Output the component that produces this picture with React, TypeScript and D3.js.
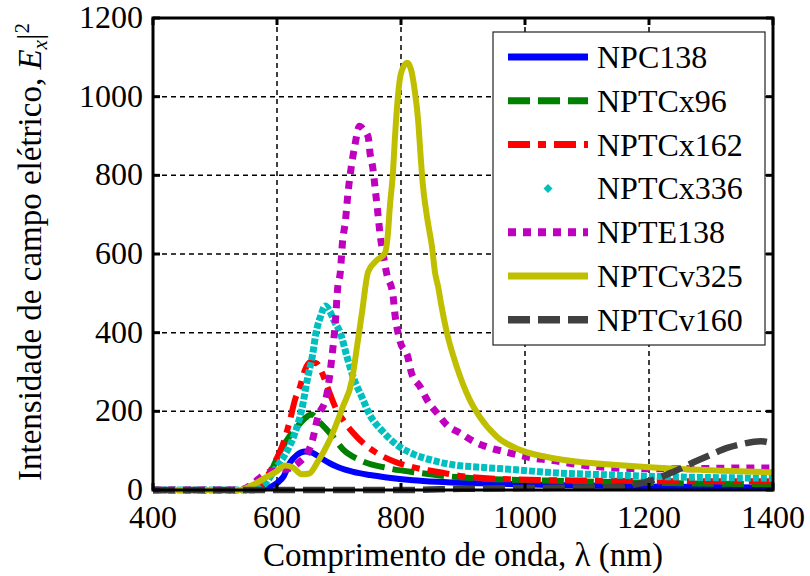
import React from "react";
import * as d3 from "d3";

// Wavelength (nm) / |Ex|^2 samples for each nanoparticle configuration
const npc138: [number, number][] = [
  [400, 0], [560, 0], [590, 8], [602, 20], [610, 33], [621, 70], [632, 89], [645, 98],
  [658, 94], [670, 82], [685, 68], [700, 57], [723, 46], [750, 38], [777, 32], [819, 25],
  [858, 21], [927, 17], [1035, 13], [1150, 10], [1250, 8], [1400, 6],
];

const nptcx96: [number, number][] = [
  [400, 0], [565, 0], [575, 8], [585, 30], [597, 70], [604, 95], [616, 127], [632, 160],
  [645, 182], [655, 192], [669, 172], [690, 136], [706, 104], [734, 76], [777, 56],
  [831, 43], [879, 34], [927, 29], [1035, 24], [1150, 20], [1250, 17], [1400, 15],
];

const nptcx162: [number, number][] = [
  [400, 0], [560, 0], [575, 15], [588, 45], [597, 72], [608, 110], [621, 178], [629, 229],
  [637, 262], [645, 305], [653, 325], [664, 322], [672, 300], [683, 255], [694, 211],
  [708, 175], [723, 145], [740, 118], [761, 94], [790, 72], [819, 58], [863, 45],
  [900, 35], [981, 27], [1100, 24], [1250, 22], [1400, 22],
];

const nptcx336: [number, number][] = [
  [400, 0], [565, 0], [580, 15], [600, 60], [613, 90], [621, 114], [629, 145], [640, 205],
  [650, 290], [657, 340], [663, 400], [670, 440], [678, 468], [685, 455], [692, 430],
  [702, 400], [713, 338], [723, 287], [737, 236], [750, 190], [771, 148], [793, 115],
  [819, 92], [852, 75], [884, 64], [927, 58], [981, 52], [1035, 45], [1142, 38],
  [1250, 33], [1400, 30],
];

const npte138: [number, number][] = [
  [400, 0], [540, 0], [560, 15], [580, 40], [600, 50], [620, 55], [635, 70], [645, 85],
  [656, 120], [666, 186], [680, 240], [688, 330], [694, 425], [698, 516], [702, 552],
  [706, 636], [710, 679], [715, 763], [718, 801], [726, 880], [733, 925], [740, 915],
  [747, 898], [750, 857], [755, 814], [758, 771], [763, 699], [766, 653], [771, 602],
  [777, 550], [787, 496], [790, 450], [798, 381], [811, 338], [817, 297], [831, 262],
  [844, 224], [858, 196], [874, 165], [895, 145], [919, 122], [940, 109], [968, 97],
  [989, 89], [1013, 81], [1040, 76], [1089, 64], [1164, 55], [1250, 54], [1358, 56],
  [1400, 56],
];

const nptcv325: [number, number][] = [
  [400, 0], [540, 0], [560, 12], [580, 30], [600, 48], [613, 62], [625, 58], [640, 40],
  [652, 42], [665, 70], [685, 127], [706, 211], [721, 280], [729, 364], [737, 450],
  [747, 555], [761, 584], [774, 602], [779, 653], [782, 720], [787, 806], [790, 890],
  [795, 1000], [800, 1060], [810, 1086], [816, 1070], [822, 1017], [828, 933], [831, 864],
  [835, 780], [842, 694], [850, 618], [855, 552], [860, 516], [865, 470], [874, 400],
  [890, 313], [911, 229], [927, 186], [955, 135], [992, 102], [1035, 84], [1089, 71],
  [1142, 64], [1200, 58], [1300, 50], [1400, 45],
];

const nptcv160: [number, number][] = [
  [400, 0], [800, 0], [900, 3], [1000, 5], [1100, 6], [1150, 9], [1174, 13], [1206, 25],
  [1239, 46], [1271, 70], [1300, 90], [1326, 107], [1350, 117], [1380, 124], [1400, 118],
];

const seriesNames = ["NPC138", "NPTCx96", "NPTCx162", "NPTCx336", "NPTE138", "NPTCv325", "NPTCv160"];
const xTicks = [400, 600, 800, 1000, 1200, 1400];
const yTicks = [0, 200, 400, 600, 800, 1000, 1200];

type Style = { color: string; dash?: string; width: number; marker?: boolean };

const styles: Style[] = [
  { color: "#0000ff", width: 6 },
  { color: "#008000", width: 6, dash: "22 8" },
  { color: "#ff0000", width: 6, dash: "22 8 8 8" },
  { color: "#00bfbf", width: 7, dash: "6 2", marker: true },
  { color: "#bf00bf", width: 7, dash: "8 7" },
  { color: "#bfbf00", width: 6 },
  { color: "#404040", width: 6.5, dash: "22 8" },
];

const seriesData = [npc138, nptcx96, nptcx162, nptcx336, npte138, nptcv325, nptcv160];

const FONT = "'Liberation Serif', 'Times New Roman', serif";

export default function App() {
  const left = 153, right = 773, top = 18, bottom = 490;
  const x = d3.scaleLinear().domain([400, 1400]).range([left, right]);
  const y = d3.scaleLinear().domain([0, 1200]).range([bottom, top]);
  const line = d3
    .line<[number, number]>()
    .x((d) => x(d[0]))
    .y((d) => y(d[1]))
    .curve(d3.curveMonotoneX);

  const legend = { x0: 493, y0: 32, x1: 765, y1: 345, rowTop: 57, rowStep: 43.8, sx0: 508, sx1: 588, tx: 597 };
  const tickLen = 7;

  return (
    <svg
      width={810}
      height={576}
      style={{ position: "absolute", left: 0, top: 0, background: "#fff" }}
      fontFamily={FONT}
    >
      <defs>
        <clipPath id="plotClip">
          <rect x={left} y={top - 5} width={right - left} height={bottom - top + 10} />
        </clipPath>
      </defs>
      <rect x={0} y={0} width={810} height={576} fill="#fff" />

      {/* grid */}
      <g stroke="#000" strokeWidth={1.5} strokeDasharray="5 4">
        {xTicks.slice(1, -1).map((t) => (
          <line key={"gx" + t} x1={x(t)} x2={x(t)} y1={top} y2={bottom} />
        ))}
        {yTicks.slice(1, -1).map((t) => (
          <line key={"gy" + t} x1={left} x2={right} y1={y(t)} y2={y(t)} />
        ))}
      </g>

      {/* series */}
      <g clipPath="url(#plotClip)" fill="none">
        {seriesData.map((d, i) => (
          <path
            key={seriesNames[i]}
            d={line(d) || ""}
            stroke={styles[i].color}
            strokeWidth={styles[i].width}
            strokeDasharray={styles[i].dash}
            strokeLinejoin="round"
          />
        ))}
      </g>

      {/* axes box and inward ticks */}
      <rect x={left} y={top} width={right - left} height={bottom - top} fill="none" stroke="#000" strokeWidth={3} />
      <g stroke="#000" strokeWidth={3}>
        {xTicks.map((t) => (
          <g key={"tx" + t}>
            <line x1={x(t)} x2={x(t)} y1={bottom} y2={bottom - tickLen} />
            <line x1={x(t)} x2={x(t)} y1={top} y2={top + tickLen} />
          </g>
        ))}
        {yTicks.map((t) => (
          <g key={"ty" + t}>
            <line x1={left} x2={left + tickLen} y1={y(t)} y2={y(t)} />
            <line x1={right} x2={right - tickLen} y1={y(t)} y2={y(t)} />
          </g>
        ))}
      </g>

      {/* tick labels */}
      <g fontSize={32} fill="#000">
        {xTicks.map((t) => (
          <text key={"lx" + t} x={x(t)} y={bottom + 38} textAnchor="middle">
            {t}
          </text>
        ))}
        {yTicks.map((t) => (
          <text key={"ly" + t} x={left - 10} y={y(t) + 10} textAnchor="end">
            {t}
          </text>
        ))}
      </g>

      {/* axis titles */}
      <text x={(left + right) / 2} y={566} textAnchor="middle" fontSize={33}>
        Comprimento de onda, λ (nm)
      </text>
      <text transform={`translate(41, ${(top + bottom) / 2 - 2}) rotate(-90)`} textAnchor="middle" fontSize={33}>
        Intensidade de campo elétrico,{" "}
        <tspan fontStyle="italic">E</tspan>
        <tspan fontStyle="italic" fontSize={21} dy={6}>x</tspan>
        <tspan dy={-6}>|</tspan>
        <tspan fontSize={21} dy={-12}>2</tspan>
      </text>

      {/* legend */}
      <rect
        x={legend.x0}
        y={legend.y0}
        width={legend.x1 - legend.x0}
        height={legend.y1 - legend.y0}
        fill="#fff"
        stroke="#222"
        strokeWidth={1.2}
      />
      {seriesNames.map((name, i) => {
        const cy = legend.rowTop + i * legend.rowStep;
        const s = styles[i];
        const cx = (legend.sx0 + legend.sx1) / 2;
        return (
          <g key={"leg" + name}>
            {s.marker ? (
              <path d={`M${cx},${cy - 4.5} L${cx + 4.5},${cy} L${cx},${cy + 4.5} L${cx - 4.5},${cy} Z`} fill={s.color} />
            ) : (
              <line
                x1={legend.sx0}
                x2={legend.sx1}
                y1={cy}
                y2={cy}
                stroke={s.color}
                strokeWidth={s.width + 1}
                strokeDasharray={s.dash}
              />
            )}
            <text x={legend.tx} y={cy + 11} fontSize={32}>
              {name}
            </text>
          </g>
        );
      })}
    </svg>
  );
}
